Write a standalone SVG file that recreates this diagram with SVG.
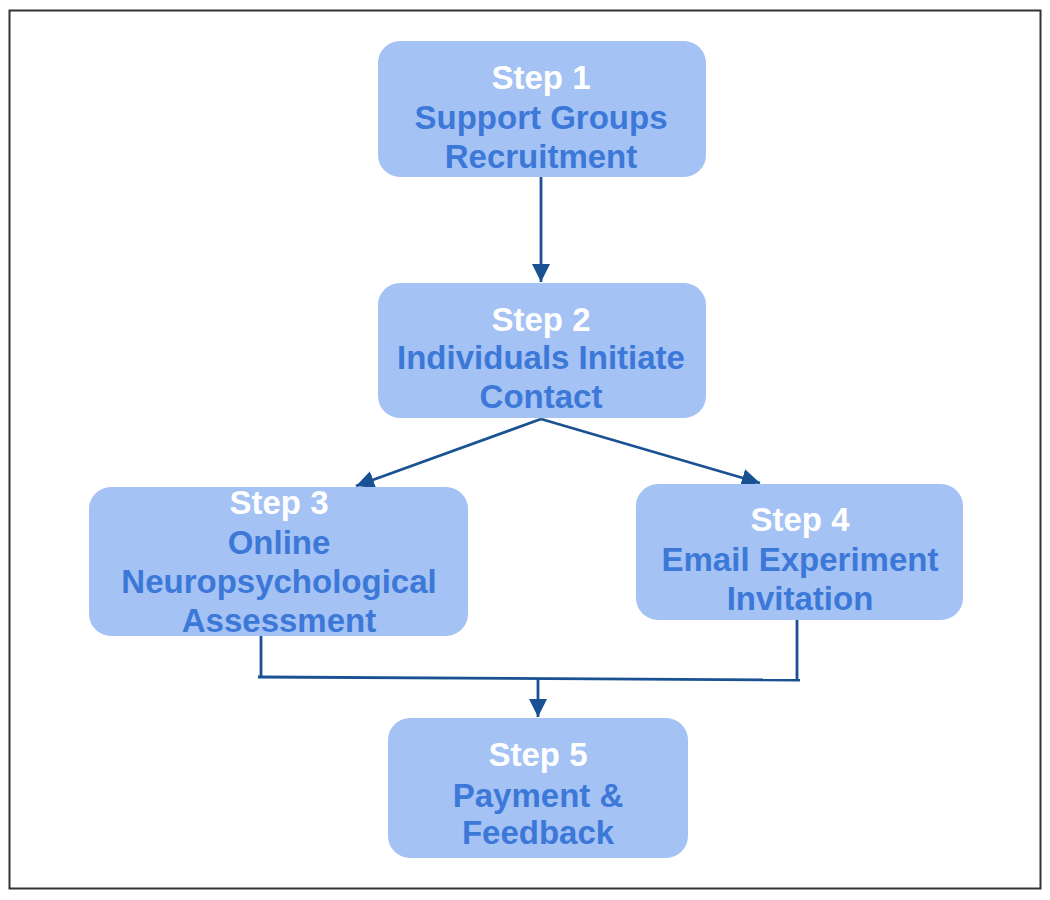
<svg xmlns="http://www.w3.org/2000/svg" width="1050" height="900" viewBox="0 0 1050 900">
<defs>
<style>
.box{fill:#a4c2f4;stroke:none}
.t{font-family:"Liberation Sans",Arial,sans-serif;font-weight:bold;font-size:33px;text-anchor:middle}
.w{fill:#ffffff}
.b{fill:#3c78d8}
.c{stroke:#1a5192;stroke-width:2.8;fill:none}
</style>
<marker id="ah" viewBox="0 0 10 10" refX="10" refY="5" markerWidth="6.5" markerHeight="6.5" markerUnits="strokeWidth" orient="auto">
<path d="M0,0 L10,5 L0,10 z" fill="#1a5192"/>
</marker>
</defs>
<rect x="0" y="0" width="1050" height="900" fill="#ffffff"/>
<rect x="9.5" y="10.5" width="1031" height="878" fill="none" stroke="#333333" stroke-width="2"/>
<g id="connectors">
<line class="c" x1="541" y1="177" x2="541" y2="282" marker-end="url(#ah)"/>
<line class="c" x1="541" y1="419" x2="356" y2="486" marker-end="url(#ah)"/>
<line class="c" x1="541" y1="419" x2="760" y2="483" marker-end="url(#ah)"/>
<polyline class="c" points="261,636 261,677"/>
<polyline class="c" points="797,620 797,680"/>
<line class="c" x1="258" y1="677" x2="800" y2="680"/>
<line class="c" x1="538" y1="678" x2="538" y2="717" marker-end="url(#ah)"/>
</g>
<g id="step1">
<rect class="box" x="378" y="41" width="328" height="136" rx="22"/>
<text class="t w" x="541" y="89">Step 1</text>
<text class="t b" x="541" y="129">Support Groups</text>
<text class="t b" x="541" y="168">Recruitment</text>
</g>
<g id="step2">
<rect class="box" x="378" y="283" width="328" height="135" rx="22"/>
<text class="t w" x="541" y="331">Step 2</text>
<text class="t b" x="541" y="369">Individuals Initiate</text>
<text class="t b" x="541" y="408">Contact</text>
</g>
<g id="step3">
<rect class="box" x="89" y="487" width="379" height="149" rx="22"/>
<text class="t w" x="279" y="514">Step 3</text>
<text class="t b" x="279" y="554">Online</text>
<text class="t b" x="279" y="593">Neuropsychological</text>
<text class="t b" x="279" y="632">Assessment</text>
</g>
<g id="step4">
<rect class="box" x="636" y="484" width="327" height="136" rx="22"/>
<text class="t w" x="800" y="531">Step 4</text>
<text class="t b" x="800" y="571">Email Experiment</text>
<text class="t b" x="800" y="610">Invitation</text>
</g>
<g id="step5">
<rect class="box" x="388" y="718" width="300" height="140" rx="22"/>
<text class="t w" x="538" y="766">Step 5</text>
<text class="t b" x="538" y="807">Payment &amp;</text>
<text class="t b" x="538" y="844">Feedback</text>
</g>
</svg>
